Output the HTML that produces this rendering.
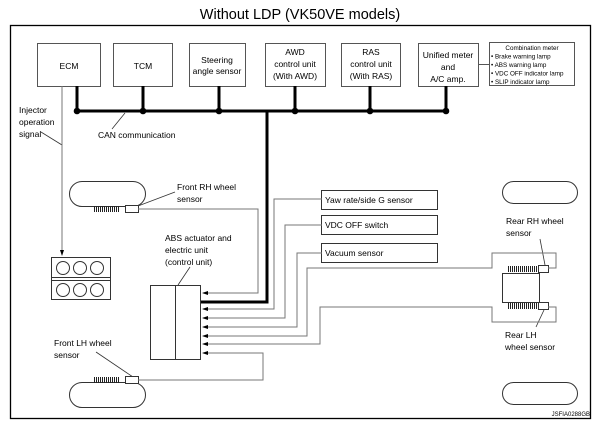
<!DOCTYPE html>
<html><head><meta charset="utf-8"><style>
html,body{margin:0;padding:0;background:#fff;}
svg{display:block;font-family:"Liberation Sans",Arial,sans-serif;}
</style></head><body>
<svg width="601" height="429" viewBox="0 0 601 429" xmlns="http://www.w3.org/2000/svg">
<defs>
<marker id="ar" markerWidth="6" markerHeight="6" refX="5" refY="3" orient="auto" markerUnits="userSpaceOnUse">
<path d="M0,1 L6,3 L0,5 Z" fill="#000"/></marker>
</defs>
<text x="300" y="19" font-size="14.5" text-anchor="middle">Without LDP (VK50VE models)</text>
<rect x="10.5" y="25.5" width="580" height="393" fill="none" stroke="#000" stroke-width="1.3"/>

<!-- top boxes -->
<g fill="#fff" stroke="#555" stroke-width="1">
<rect x="37.5" y="43.5" width="63" height="43"/>
<rect x="113.5" y="43.5" width="59" height="43"/>
<rect x="189.5" y="43.5" width="56" height="43"/>
<rect x="265.5" y="43.5" width="60" height="43"/>
<rect x="341.5" y="43.5" width="59" height="43"/>
<rect x="418.5" y="43.5" width="60" height="43"/>
<rect x="489.5" y="42.5" width="85" height="43"/>
</g>
<g font-size="8.5" text-anchor="middle" fill="#000">
<text x="69" y="69">ECM</text>
<text x="143" y="69">TCM</text>
<text x="217" y="63">Steering</text><text x="217" y="74">angle sensor</text>
<text x="295" y="55">AWD</text><text x="295" y="67">control unit</text><text x="295" y="79">(With AWD)</text>
<text x="371" y="55">RAS</text><text x="371" y="67">control unit</text><text x="371" y="79">(With RAS)</text>
<text x="448" y="58">Unified meter</text><text x="448" y="70">and</text><text x="448" y="82">A/C amp.</text>
</g>
<g font-size="6.3" fill="#000">
<text x="532" y="50" text-anchor="middle">Combination meter</text>
<text x="491" y="58.5">• Brake warning lamp</text>
<text x="491" y="67">• ABS warning lamp</text>
<text x="491" y="75.5">• VDC OFF indicator lamp</text>
<text x="491" y="84">• SLIP indicator lamp</text>
</g>
<line x1="478" y1="64.5" x2="489" y2="64.5" stroke="#555"/>

<!-- CAN bus -->
<g stroke="#000" stroke-width="3" fill="none">
<line x1="77" y1="111" x2="446" y2="111"/>
<line x1="77" y1="86" x2="77" y2="111"/>
<line x1="143" y1="86" x2="143" y2="111"/>
<line x1="219" y1="86" x2="219" y2="111"/>
<line x1="295" y1="86" x2="295" y2="111"/>
<line x1="370" y1="86" x2="370" y2="111"/>
<line x1="446" y1="86" x2="446" y2="111"/>
<polyline points="267,111 267,302 201,302"/>
</g>
<g fill="#000">
<circle cx="77" cy="111" r="3.3"/><circle cx="143" cy="111" r="3.3"/><circle cx="219" cy="111" r="3.3"/>
<circle cx="295" cy="111" r="3.3"/><circle cx="370" cy="111" r="3.3"/><circle cx="446" cy="111" r="3.3"/>
</g>
<g font-size="8.5" fill="#000">
<text x="98" y="138">CAN communication</text>
<text x="19" y="113">Injector</text><text x="19" y="125">operation</text><text x="19" y="137">signal</text>
<text x="177" y="190">Front RH wheel</text><text x="177" y="202">sensor</text>
<text x="165" y="241">ABS actuator and</text><text x="165" y="253">electric unit</text><text x="165" y="265">(control unit)</text>
<text x="54" y="346">Front LH wheel</text><text x="54" y="358">sensor</text>
<text x="506" y="224">Rear RH wheel</text><text x="506" y="236">sensor</text>
<text x="505" y="338">Rear LH</text><text x="505" y="350">wheel sensor</text>
</g>
<g stroke="#333" stroke-width="0.8" fill="none">
<line x1="112" y1="129" x2="125" y2="113"/>
<line x1="41" y1="132" x2="62" y2="145"/>
<line x1="175" y1="192" x2="138" y2="206"/>
<line x1="190" y1="267" x2="178" y2="285"/>
<line x1="96" y1="352" x2="133" y2="377"/>
<line x1="540" y1="239" x2="545" y2="265"/>
<line x1="544" y1="310" x2="536" y2="327"/>
</g>

<!-- injector -->
<line x1="62" y1="86" x2="62" y2="255" stroke="#777" stroke-width="1" marker-end="url(#ar)"/>
<rect x="51.5" y="257.5" width="59" height="42" fill="#fff" stroke="#333"/>
<line x1="51" y1="277.5" x2="110" y2="277.5" stroke="#333"/>
<line x1="51" y1="280.5" x2="110" y2="280.5" stroke="#333"/>
<g fill="none" stroke="#333">
<circle cx="63" cy="268" r="6.5"/><circle cx="80" cy="268" r="6.5"/><circle cx="97" cy="268" r="6.5"/>
<circle cx="63" cy="290" r="6.5"/><circle cx="80" cy="290" r="6.5"/><circle cx="97" cy="290" r="6.5"/>
</g>

<!-- wheels -->
<g fill="#fff" stroke="#333">
<rect x="69.5" y="181.5" width="76" height="25" rx="12.5"/>
<rect x="69.5" y="382.5" width="76" height="25" rx="12.5"/>
<rect x="502.5" y="181.5" width="75" height="22" rx="11"/>
<rect x="502.5" y="382.5" width="75" height="22" rx="11"/>
<rect x="125.5" y="205.5" width="13" height="7"/>
<rect x="125.5" y="376.5" width="13" height="7"/>
<rect x="538.5" y="265.5" width="10" height="7"/>
<rect x="538.5" y="302.5" width="10" height="7"/>
<rect x="502.5" y="273.5" width="37" height="29"/>
</g>
<g stroke="#222" stroke-width="6" stroke-dasharray="1,1">
<line x1="94" y1="209" x2="120" y2="209"/>
<line x1="94" y1="380" x2="120" y2="380"/>
<line x1="508" y1="269" x2="537" y2="269"/>
<line x1="508" y1="306" x2="537" y2="306"/>
</g>

<!-- sensor boxes -->
<g fill="#fff" stroke="#333">
<rect x="321.5" y="190.5" width="116" height="19"/>
<rect x="321.5" y="215.5" width="116" height="19"/>
<rect x="321.5" y="243.5" width="116" height="19"/>
</g>
<g font-size="8.5" fill="#000">
<text x="325" y="203">Yaw rate/side G sensor</text>
<text x="325" y="228">VDC OFF switch</text>
<text x="325" y="256">Vacuum sensor</text>
</g>

<!-- ABS unit -->
<rect x="150.5" y="285.5" width="50" height="74" fill="#fff" stroke="#333"/>
<line x1="175.5" y1="285" x2="175.5" y2="360" stroke="#333"/>

<!-- wiring -->
<g fill="none" stroke="#777" stroke-width="1">
<polyline points="138,209 258,209 258,293 203,293" marker-end="url(#ar)"/>
<polyline points="322,199 274,199 274,309 203,309" marker-end="url(#ar)"/>
<polyline points="322,225 285,225 285,318 203,318" marker-end="url(#ar)"/>
<polyline points="322,253 297,253 297,327 203,327" marker-end="url(#ar)"/>
<polyline points="548,268 556,268 556,253 492,253 492,268 307,268 307,336 203,336" marker-end="url(#ar)"/>
<polyline points="548,307 556,307 556,322 492,322 492,307 320,307 320,344 203,344" marker-end="url(#ar)"/>
<polyline points="138,380 263,380 263,353 203,353" marker-end="url(#ar)"/>
</g>
<text x="590" y="416" font-size="6" text-anchor="end" fill="#000">JSFIA0288GB</text>
</svg>
</body></html>
